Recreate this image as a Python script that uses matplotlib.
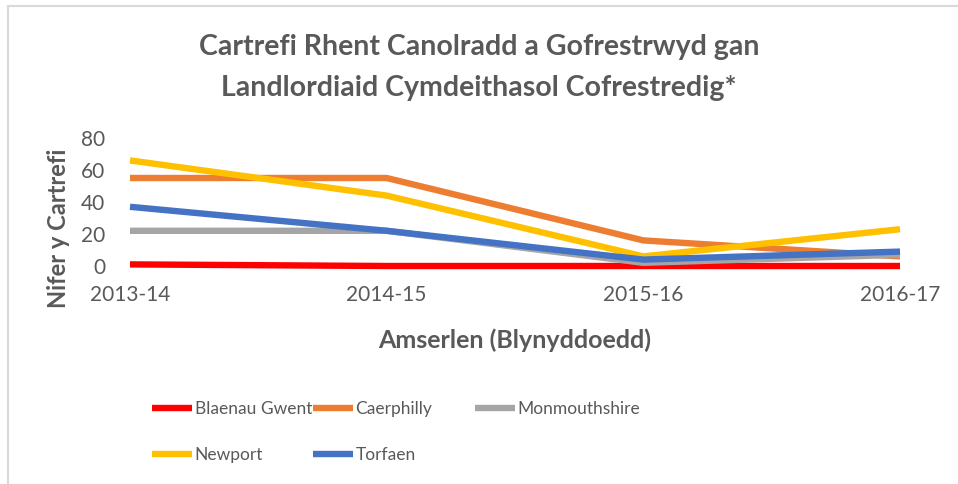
import matplotlib
matplotlib.use("Agg")
import matplotlib.pyplot as plt
from matplotlib.lines import Line2D

# data
years = ["2013-14", "2014-15", "2015-16", "2016-17"]
blaenau_gwent = [1, 0, 0, 0]
caerphilly = [55, 55, 16, 6]
monmouthshire = [22, 22, 2, 7]
newport = [66, 44, 6, 23]
torfaen = [37, 22, 4, 9]

series_names = ["Blaenau Gwent", "Caerphilly", "Monmouthshire", "Newport", "Torfaen"]
series_vals = [blaenau_gwent, caerphilly, monmouthshire, newport, torfaen]
colours = ["#FF0000", "#ED7D31", "#A5A5A5", "#FFC000", "#4472C4"]

txt = "#595959"
plt.rcParams['font.family'] = ['Lato', 'DejaVu Sans']

fig = plt.figure(figsize=(9.58, 4.84), dpi=100)
ax = fig.add_axes([130/958, 1-266/484, (900-130)/958, (266-138)/484])

x = list(range(len(years)))
handles = []
for name, vals, c in zip(series_names, series_vals, colours):
    h, = ax.plot(x, vals, color=c, lw=4.6, label=name, clip_on=False,
                 solid_joinstyle='round', solid_capstyle='butt')
    handles.append(h)

ax.set_xlim(0, 3)
ax.set_ylim(0, 80)
ax.set_yticks([0, 20, 40, 60, 80])
ax.set_xticks(x)
ax.set_xticklabels(years)
for s in ax.spines.values():
    s.set_visible(False)
ax.tick_params(length=0, labelsize=15, colors=txt)
ax.tick_params(axis='y', pad=18)
ax.tick_params(axis='x', pad=14)

ax.set_xlabel("Amserlen (Blynyddoedd)", fontsize=18, fontweight='bold', color=txt, va='center')
ax.xaxis.set_label_coords(0.5, -(340-266)/128, transform=ax.transAxes)
ax.set_ylabel("Nifer y Cartrefi", fontsize=17, fontweight='bold', color=txt, va='center')
ax.yaxis.set_label_coords(-(130-58)/770, (266-228)/128, transform=ax.transAxes)

fig.text(479/958, 1-47/484, "Cartrefi Rhent Canolradd a Gofrestrwyd gan", ha='center', va='center',
         fontsize=20.5, fontweight='bold', color=txt)
fig.text(479/958, 1-88/484, "Landlordiaid Cymdeithasol Cofrestredig*", ha='center', va='center',
         fontsize=20.5, fontweight='bold', color=txt)

# legend, three columns like Excel
cols = [[0, 3], [1, 4], [2]]
col_x = [152, 313, 475]
for idx, cx in zip(cols, col_x):
    fig.legend([handles[i] for i in idx], [series_names[i] for i in idx],
               loc='upper left', bbox_to_anchor=(cx/958, 1-401/484),
               frameon=False, fontsize=12.5, labelcolor=txt,
               handlelength=2.3, handletextpad=0.15, labelspacing=1.72,
               borderpad=0, borderaxespad=0)

# chart frame (only left and top edge show)
fig.add_artist(Line2D([8/958, 8/958], [0, 1-6/484], color="#D9D9D9", lw=1.5, transform=fig.transFigure))
fig.add_artist(Line2D([8/958, 1], [1-6/484, 1-6/484], color="#D9D9D9", lw=1.5, transform=fig.transFigure))

fig.savefig("out.png", dpi=100)
